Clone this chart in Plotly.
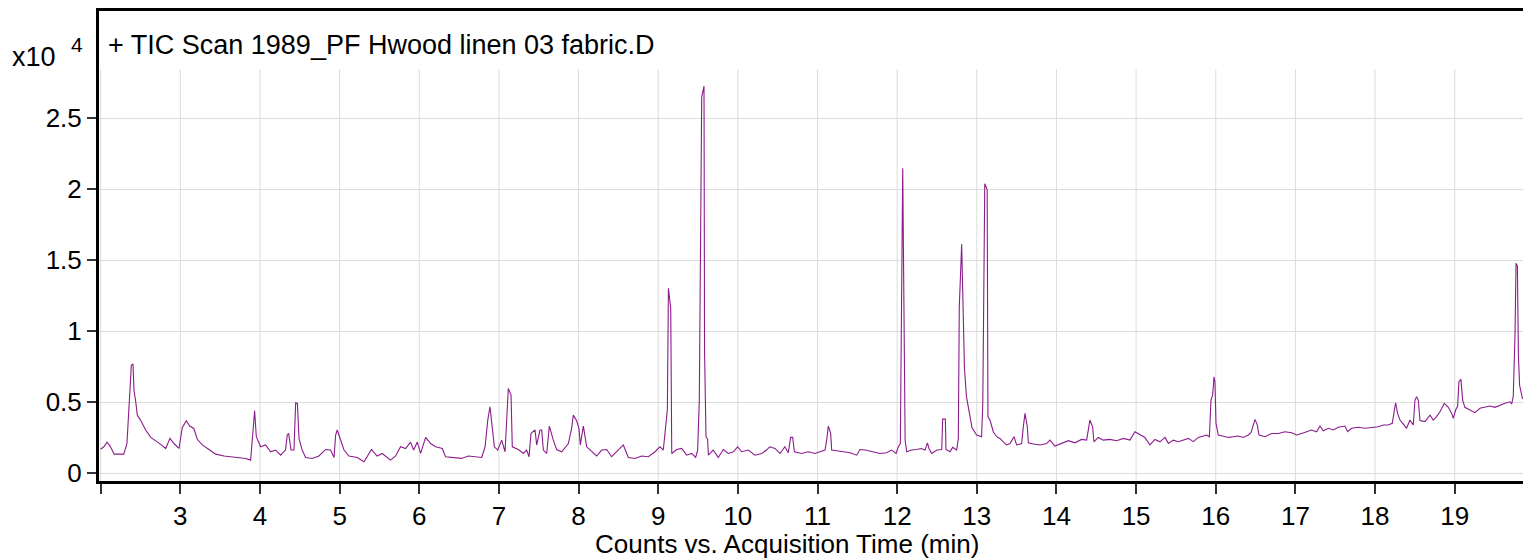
import plotly.graph_objects as go

# Acquisition time (min)
time_min = [
    2.00, 2.04, 2.08, 2.12, 2.17, 2.23, 2.29, 2.33, 2.355, 2.385, 2.406, 2.418, 2.44, 2.46, 2.50,
    2.565, 2.628, 2.69, 2.75, 2.816, 2.87, 2.92, 2.983, 3.025, 3.075, 3.117, 3.17, 3.213, 3.276,
    3.36, 3.443, 3.548, 3.65, 3.736, 3.82, 3.883, 3.904, 3.933, 3.954, 4.008, 4.07, 4.134, 4.197,
    4.26, 4.32, 4.343, 4.36, 4.39, 4.427, 4.448, 4.47, 4.49, 4.53, 4.573, 4.656, 4.74, 4.824,
    4.887, 4.93, 4.95, 4.97, 5.0, 5.055, 5.117, 5.222, 5.306, 5.4, 5.47, 5.535, 5.64, 5.703,
    5.765, 5.828, 5.89, 5.93, 5.975, 6.017, 6.08, 6.142, 6.205, 6.29, 6.33, 6.45, 6.53, 6.617,
    6.70, 6.784, 6.826, 6.86, 6.888, 6.909, 6.943, 6.985, 7.035, 7.077, 7.118, 7.152, 7.168,
    7.244, 7.307, 7.348, 7.378, 7.403, 7.453, 7.474, 7.516, 7.537, 7.558, 7.6, 7.633, 7.683,
    7.725, 7.788, 7.872, 7.913, 7.934, 7.976, 8.005, 8.022, 8.06, 8.102, 8.165, 8.227, 8.29,
    8.353, 8.415, 8.499, 8.562, 8.625, 8.709, 8.792, 8.876, 8.96, 9.022, 9.064, 9.093, 9.115,
    9.128, 9.157, 9.17, 9.232, 9.294, 9.357, 9.42, 9.47, 9.495, 9.516, 9.546, 9.575, 9.582,
    9.60, 9.62, 9.63, 9.69, 9.754, 9.817, 9.88, 9.943, 9.997, 10.047, 10.131, 10.215, 10.30,
    10.36, 10.40, 10.466, 10.53, 10.59, 10.633, 10.662, 10.688, 10.71, 10.80, 10.884, 10.97,
    11.03, 11.094, 11.115, 11.136, 11.165, 11.178, 11.24, 11.324, 11.408, 11.492, 11.534, 11.60,
    11.70, 11.785, 11.868, 11.93, 11.986, 12.015, 12.04, 12.055, 12.07, 12.08, 12.10, 12.12,
    12.18, 12.245, 12.30, 12.35, 12.38, 12.40, 12.433, 12.50, 12.56, 12.571, 12.605, 12.613,
    12.663, 12.697, 12.747, 12.768, 12.78, 12.81, 12.83, 12.845, 12.87, 12.90, 12.94, 12.998,
    13.06, 13.075, 13.10, 13.13, 13.14, 13.165, 13.207, 13.25, 13.29, 13.333, 13.375, 13.417,
    13.467, 13.50, 13.563, 13.584, 13.605, 13.634, 13.647, 13.71, 13.793, 13.877, 13.918, 13.98,
    14.065, 14.15, 14.232, 14.316, 14.379, 14.40, 14.42, 14.454, 14.47, 14.525, 14.588, 14.672,
    14.755, 14.84, 14.923, 14.985, 15.048, 15.11, 15.174, 15.237, 15.30, 15.363, 15.405, 15.467,
    15.53, 15.593, 15.656, 15.719, 15.781, 15.844, 15.886, 15.92, 15.94, 15.961, 15.978, 15.99,
    16.003, 16.032, 16.095, 16.158, 16.22, 16.283, 16.346, 16.409, 16.442, 16.472, 16.493,
    16.522, 16.543, 16.618, 16.702, 16.786, 16.869, 16.953, 17.016, 17.078, 17.141, 17.204,
    17.267, 17.309, 17.35, 17.413, 17.476, 17.539, 17.622, 17.656, 17.706, 17.79, 17.873,
    17.957, 18.041, 18.104, 18.166, 18.216, 18.242, 18.258, 18.283, 18.313, 18.355, 18.396,
    18.438, 18.48, 18.501, 18.522, 18.543, 18.564, 18.627, 18.69, 18.731, 18.773, 18.815,
    18.87, 18.92, 18.962, 18.982, 19.012, 19.037, 19.053, 19.078, 19.10, 19.128, 19.19, 19.254,
    19.317, 19.38, 19.443, 19.505, 19.568, 19.631, 19.694, 19.715, 19.735, 19.757, 19.77,
    19.787, 19.80, 19.815, 19.85, 19.90, 19.93, 19.955,
]

# Counts (x10^4)
counts_e4 = [
    0.17, 0.187, 0.22, 0.19, 0.135, 0.135, 0.135, 0.21, 0.45, 0.762, 0.77, 0.586, 0.504, 0.41, 0.375,
    0.305, 0.253, 0.23, 0.206, 0.175, 0.246, 0.21, 0.175, 0.323, 0.37, 0.333, 0.316, 0.24, 0.2,
    0.168, 0.135, 0.122, 0.117, 0.112, 0.105, 0.093, 0.234, 0.44, 0.258, 0.187, 0.2, 0.152, 0.164,
    0.128, 0.164, 0.27, 0.281, 0.164, 0.164, 0.497, 0.492, 0.246, 0.164, 0.112, 0.105, 0.122, 0.168,
    0.164, 0.112, 0.27, 0.305, 0.253, 0.164, 0.122, 0.112, 0.082, 0.168, 0.122, 0.14, 0.093, 0.122,
    0.187, 0.175, 0.22, 0.164, 0.22, 0.14, 0.253, 0.21, 0.187, 0.175, 0.117, 0.112, 0.105, 0.122,
    0.117, 0.112, 0.187, 0.375, 0.469, 0.352, 0.187, 0.164, 0.234, 0.152, 0.598, 0.551, 0.187,
    0.168, 0.14, 0.164, 0.117, 0.281, 0.305, 0.2, 0.305, 0.305, 0.164, 0.14, 0.333, 0.234,
    0.168, 0.152, 0.21, 0.316, 0.41, 0.37, 0.316, 0.2, 0.333, 0.187, 0.152, 0.122, 0.164,
    0.168, 0.117, 0.168, 0.2, 0.112, 0.105, 0.122, 0.117, 0.152, 0.187, 0.164, 0.305, 0.45,
    1.303, 1.164, 0.14, 0.168, 0.175, 0.128, 0.14, 0.112, 0.164, 0.516, 2.65, 2.727, 0.85,
    0.258, 0.24, 0.128, 0.164, 0.112, 0.168, 0.14, 0.152, 0.187, 0.152, 0.164, 0.128, 0.14,
    0.164, 0.187, 0.175, 0.14, 0.187, 0.145, 0.253, 0.253, 0.152, 0.14, 0.152, 0.14,
    0.152, 0.164, 0.234, 0.333, 0.281, 0.164, 0.159, 0.152, 0.145, 0.128, 0.168, 0.164,
    0.152, 0.14, 0.145, 0.164, 0.14, 0.187, 0.21, 1.6, 2.148, 1.5, 0.235, 0.152,
    0.164, 0.168, 0.175, 0.164, 0.215, 0.175, 0.14, 0.164, 0.168, 0.382, 0.382, 0.168,
    0.152, 0.183, 0.164, 0.246, 1.17, 1.613, 1.197, 0.74, 0.54, 0.446, 0.32, 0.27,
    0.258, 0.49, 2.04, 1.997, 0.4, 0.375, 0.293, 0.258, 0.246, 0.222, 0.2, 0.21,
    0.258, 0.2, 0.21, 0.328, 0.422, 0.328, 0.215, 0.206, 0.2, 0.21, 0.234, 0.192,
    0.21, 0.23, 0.215, 0.239, 0.234, 0.305, 0.375, 0.328, 0.222, 0.253, 0.234, 0.239,
    0.23, 0.246, 0.234, 0.293, 0.27, 0.253, 0.2, 0.239, 0.222, 0.253, 0.211, 0.234,
    0.223, 0.234, 0.246, 0.223, 0.253, 0.263, 0.27, 0.258, 0.516, 0.551, 0.68, 0.645,
    0.352, 0.27, 0.263, 0.253, 0.258, 0.263, 0.253, 0.27, 0.286, 0.34, 0.38,
    0.34, 0.27, 0.258, 0.281, 0.281, 0.293, 0.286, 0.27, 0.281, 0.293, 0.305,
    0.293, 0.333, 0.3, 0.317, 0.305, 0.324, 0.333, 0.293, 0.317, 0.324, 0.317,
    0.324, 0.328, 0.34, 0.34, 0.352, 0.45, 0.497, 0.422, 0.375, 0.347, 0.317,
    0.375, 0.34, 0.516, 0.54, 0.516, 0.371, 0.364, 0.41, 0.375, 0.399, 0.434,
    0.493, 0.465, 0.422, 0.387, 0.446, 0.474, 0.645, 0.662, 0.516, 0.465, 0.446, 0.427,
    0.458, 0.465, 0.474, 0.465, 0.481, 0.493, 0.504, 0.488, 0.54, 0.97, 1.479,
    1.46, 0.821, 0.62, 0.528, 0.516, 0.535, 0.53,
]

x_tick_vals = list(range(2, 20))
x_tick_text = [""] + [str(v) for v in range(3, 20)]
y_tick_vals = [0, 0.5, 1, 1.5, 2, 2.5]
y_tick_text = ["0", "0.5", "1", "1.5", "2", "2.5"]

FONT = "Liberation Sans, Arial, sans-serif"

fig = go.Figure()
fig.add_trace(go.Scatter(
    x=time_min, y=counts_e4, mode="lines",
    line=dict(color="#8b1c8b", width=1.1),
    hoverinfo="x+y", showlegend=False,
))

# vertical grid lines (they stop below the title band)
shapes = []
for v in x_tick_vals:
    shapes.append(dict(type="line", xref="x", yref="y", x0=v, x1=v, y0=-0.06, y1=2.846,
                       line=dict(color="#dcdcdc", width=1), layer="below"))

# page body has an 8px default margin, so the figure is 8px smaller than the window
fig.update_layout(
    width=1523, height=551,
    margin=dict(l=91, r=0, t=3, b=78),
    paper_bgcolor="white", plot_bgcolor="white",
    font=dict(family=FONT, size=26, color="#000"),
    shapes=shapes,
    xaxis=dict(
        range=[1.979, 19.958], tickmode="array", tickvals=x_tick_vals, ticktext=x_tick_text,
        showgrid=False, zeroline=False,
        showline=True, linecolor="#000", linewidth=3, mirror=True,
        ticks="outside", ticklen=10, tickwidth=1.5, tickcolor="#333",
        tickfont=dict(size=26),
    ),
    yaxis=dict(
        range=[-0.054, 3.256], tickmode="array", tickvals=y_tick_vals, ticktext=y_tick_text,
        showgrid=True, gridcolor="#dcdcdc", gridwidth=1, zeroline=False,
        showline=True, linecolor="#000", linewidth=3,
        ticks="outside", ticklen=9, tickwidth=1.5, tickcolor="#333",
        tickfont=dict(size=26),
    ),
    annotations=[
        dict(text="x10", xref="paper", yref="paper", x=-0.0622, y=0.902,
             xanchor="left", yanchor="middle", showarrow=False, font=dict(size=27)),
        dict(text="4", xref="paper", yref="paper", x=-0.0154, y=0.9277,
             xanchor="center", yanchor="middle", showarrow=False, font=dict(size=21)),
        dict(text="+ TIC Scan 1989_PF Hwood linen 03 fabric.D", xref="paper", yref="paper",
             x=0.0049, y=0.9277, xanchor="left", yanchor="middle", showarrow=False,
             font=dict(size=27)),
        dict(text="Counts vs. Acquisition Time (min)", xref="paper", yref="paper",
             x=0.4804, y=-0.133, xanchor="center", yanchor="middle", showarrow=False,
             font=dict(size=26)),
    ],
)

fig.write_html("out.html")
